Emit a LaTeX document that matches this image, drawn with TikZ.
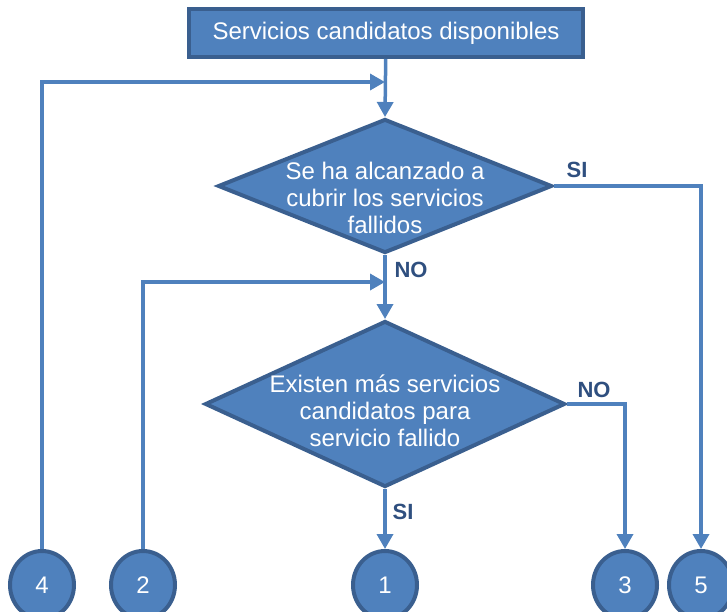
\documentclass[tikz,border=0pt]{standalone}
\usepackage{fontspec}
\setmainfont{Liberation Sans}
\usetikzlibrary{shapes.geometric,arrows.meta}
\definecolor{boxfill}{HTML}{4F81BD}
\definecolor{boxedge}{HTML}{3A5F8F}
\definecolor{lbltext}{HTML}{2F4F7F}
\tikzset{
  box/.style={rectangle,draw=boxedge,fill=boxfill,line width=4pt,text=white,
    minimum width=394pt,minimum height=48pt,inner sep=0pt,
    font=\fontsize{24}{27}\selectfont},
  decision/.style={diamond,draw=boxedge,fill=boxfill,line width=4pt,inner sep=0pt},
  dtext/.style={text=white,align=center,inner sep=0pt,font=\fontsize{24}{27}\selectfont},
  term/.style={ellipse,draw=boxedge,fill=boxfill,line width=4pt,text=white,
    minimum width=64pt,minimum height=68pt,inner sep=0pt,
    font=\fontsize{24}{27}\selectfont},
  flow/.style={draw=boxfill,line width=3.5pt,-{Triangle[width=16pt,length=15pt]}},
  lbl/.style={text=lbltext,inner sep=0pt,font=\fontsize{22}{24}\selectfont\bfseries}
}
\begin{document}
\begin{tikzpicture}[x=1pt,y=-1pt]
    \useasboundingbox (0,0) rectangle (727,611);
    \node[box] (cand) at (386,33) {Servicios candidatos disponibles};
    \node[decision,minimum width=334pt,minimum height=134pt] (d1) at (385,186) {};
    \node[dtext] (t1) at (385,198) {Se ha alcanzado a\\cubrir los servicios\\fallidos};
    \node[decision,minimum width=360pt,minimum height=166pt] (d2) at (385,404) {};
    \node[dtext] (t2) at (385,411) {Existen más servicios\\candidatos para\\servicio fallido};
    \node[term] (c4) at (42,585) {4};
    \node[term] (c2) at (143,585) {2};
    \node[term] (c1) at (385,585) {1};
    \node[term] (c3) at (625,585) {3};
    \node[term] (c5) at (701,585) {5};
    \coordinate (j1) at (385,82);
    \coordinate (j2) at (385,282);
    % main line
    \draw[flow] (cand) -- (d1.north);
    \draw[flow] (c4.north) |- (j1);
    \draw[flow] (d1.south) -- (d2.north);
    \draw[flow] (c2.north) |- (j2);
    \draw[flow] (d2.south) -- (c1.north);
    % exits
    \draw[flow] (d1.east) -| (c5.north);
    \draw[flow] (d2.east) -| (c3.north);
    \node[lbl] (si1) at (577,170) {SI};
    \node[lbl] (no1) at (411,270) {NO};
    \node[lbl] (no2) at (594,390) {NO};
    \node[lbl] (si2) at (403,512) {SI};
\end{tikzpicture}
\end{document}
